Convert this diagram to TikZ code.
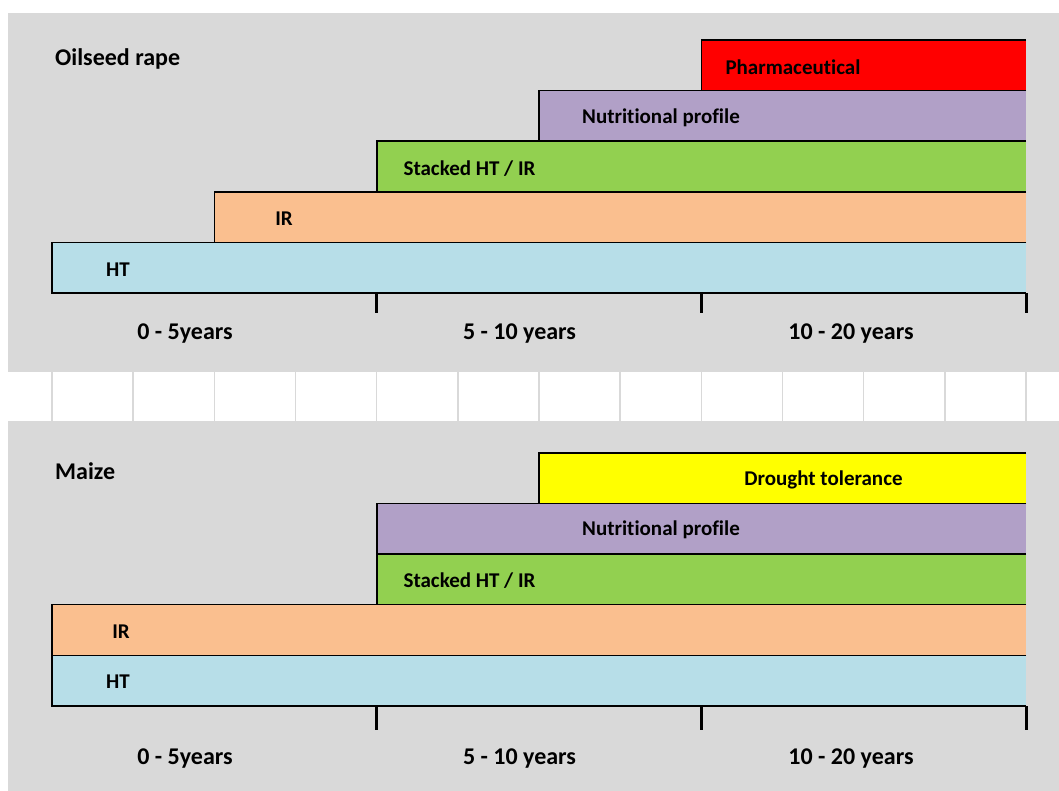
\documentclass[tikz,border=0pt]{standalone}
\usepackage{fontspec}
\setmainfont{Carlito}[Ligatures={NoCommon}]
\definecolor{panel}{HTML}{D9D9D9}
\definecolor{gridc}{HTML}{D9D9D9}
\definecolor{cred}{HTML}{FF0000}
\definecolor{cpurple}{HTML}{B1A0C7}
\definecolor{cgreen}{HTML}{92D050}
\definecolor{corange}{HTML}{FABF8F}
\definecolor{cblue}{HTML}{B7DEE8}
\definecolor{cyellow}{HTML}{FFFF00}
\tikzset{
  edge/.style={draw=black, line width=1.6pt},
  baseline axis/.style={draw=black, line width=2.8pt},
  tickmark/.style={draw=black, line width=3pt},
  barlabel/.style={font=\fontsize{21}{25}\selectfont\bfseries, inner sep=0pt},
  axislabel/.style={font=\fontsize{24}{28}\selectfont\bfseries, inner sep=0pt},
  titlelabel/.style={font=\fontsize{24}{28}\selectfont\bfseries, inner sep=0pt, anchor=west},
}
\newcommand\gbar[8]{% name, x1, y1, x2, y2, colour, label x, text
  \fill[#6] (#2,#3) rectangle (#4,#5);
  \draw[edge] (#4,#3) -- (#2,#3) -- (#2,#5) -- (#4,#5);
  \node[barlabel] (#1) at (#7,{(#3+#5)/2+1.5}) {#8};
}
\begin{document}
\begin{tikzpicture}[x=1pt,y=-1pt]
\useasboundingbox (0,0) rectangle (1059,791);
\fill[white] (0,0) rectangle (1059,791);
\fill[panel] (8,13) rectangle (1059,372);
\fill[panel] (8,421) rectangle (1059,791);
\foreach \i in {0,...,12} {
  \draw[gridc, line width=1.5pt] ({52+81.17*\i},372) -- ({52+81.17*\i},421);
}
% top panel: Oilseed rape
\node[titlelabel] (t1) at (55,59) {Oilseed rape};
\gbar{a1}{701.3}{40}{1026}{90.5}{cred}{793}{Pharmaceutical}
\gbar{a2}{539}{90.5}{1026}{141.3}{cpurple}{661}{Nutritional profile}
\gbar{a3}{376.7}{141.3}{1026}{192}{cgreen}{469.5}{Stacked HT / IR}
\gbar{a4}{214.3}{192}{1026}{242.5}{corange}{284}{IR}
\gbar{a5}{52}{242.5}{1026}{293}{cblue}{118}{HT}
\draw[baseline axis] (52,293) -- (1026,293);
\foreach \x in {376.7,701.3,1026} {\draw[tickmark] (\x,293) -- (\x,313);}
\node[axislabel] (l1) at (185,334) {0 - 5years};
\node[axislabel] (l2) at (519.5,334) {5 - 10 years};
\node[axislabel] (l3) at (851,334) {10 - 20 years};
% bottom panel: Maize
\node[titlelabel] (t2) at (55,471) {Maize};
\gbar{b1}{539}{453}{1026}{503.5}{cyellow}{823.5}{Drought tolerance}
\gbar{b2}{376.7}{503.5}{1026}{554}{cpurple}{661}{Nutritional profile}
\gbar{b3}{376.7}{554}{1026}{604.5}{cgreen}{469.5}{Stacked HT / IR}
\gbar{b4}{52}{604.5}{1026}{655.3}{corange}{121}{IR}
\gbar{b5}{52}{655.3}{1026}{706}{cblue}{118}{HT}
\draw[baseline axis] (52,706) -- (1026,706);
\foreach \x in {376.7,701.3,1026} {\draw[tickmark] (\x,706) -- (\x,730);}
\node[axislabel] (m1) at (185,759) {0 - 5years};
\node[axislabel] (m2) at (519.5,759) {5 - 10 years};
\node[axislabel] (m3) at (851,759) {10 - 20 years};
\end{tikzpicture}
\end{document}
